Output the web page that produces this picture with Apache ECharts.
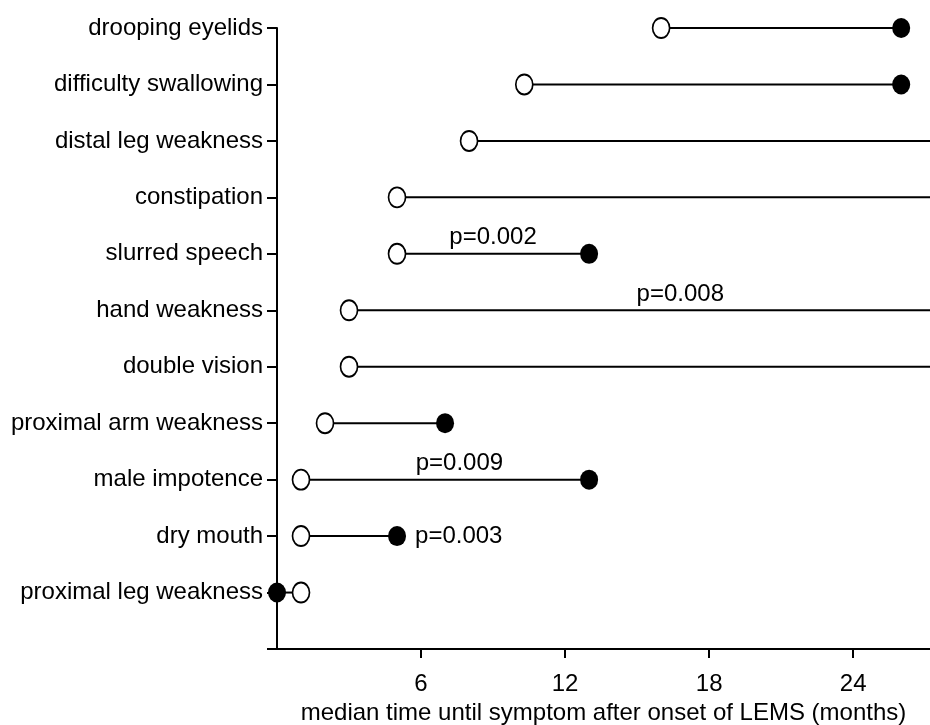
<!DOCTYPE html>
<html>
<head>
<meta charset="utf-8">
<script src="https://cdn.jsdelivr.net/npm/echarts@6/dist/echarts.min.js"></script>
<style>
html,body{margin:0;padding:0;background:#fff;}
#chart{width:930px;height:725px;}
</style>
</head>
<body>
<div id="chart"></div>
<script>
// Symptoms, top to bottom as drawn
const categories = ['drooping eyelids', 'difficulty swallowing', 'distal leg weakness', 'constipation', 'slurred speech', 'hand weakness', 'double vision', 'proximal arm weakness', 'male impotence', 'dry mouth', 'proximal leg weakness'];
// open circles (first group) median months
const openValues = [16, 10.3, 8, 5, 5, 3, 3, 2, 1, 1, 1];
// filled circles (second group) median months; null = not reached (line runs off the axis)
const filledValues = [26, 26, null, null, 13, null, null, 7, 13, 5, 0];
// p-value annotations
const pLabels = ['p=0.002', 'p=0.008', 'p=0.009', 'p=0.003'];
const pCategories = ['slurred speech', 'hand weakness', 'male impotence', 'dry mouth'];
const pAnchors = [9, 16.8, 7.6, 5];
// x axis
const xTicks = [6, 12, 18, 24];
const xMin = 0, xMax = 27.2;
const xTitle = 'median time until symptom after onset of LEMS (months)';

const FONT = 'Liberation Sans, Arial, Helvetica, sans-serif';
const yData = [''].concat(categories.slice().reverse());

const segData = categories.map((c, i) => {
  const a = openValues[i];
  const b = filledValues[i];
  const start = b == null ? a : Math.min(a, b);
  const end = b == null ? xMax : Math.max(a, b);
  return [start, end, c];
});
const openData = categories.map((c, i) => [openValues[i], c]);
const filledData = categories.map((c, i) => filledValues[i] == null ? null : [filledValues[i], c]).filter(d => d);
const pData = pLabels.map((t, i) => ({
  value: [pAnchors[i], pCategories[i]],
  label: i === 3
    ? { position: 'right', distance: 18, formatter: t }
    : { position: 'top', distance: 4, formatter: t }
}));

const chart = echarts.init(document.getElementById('chart'), null, {renderer: 'canvas'});
chart.setOption({
  animation: false,
  backgroundColor: '#fff',
  grid: { left: 277, right: 0, top: 28, bottom: 76, containLabel: false, outerBoundsMode: 'none' },
  xAxis: {
    type: 'value', min: xMin, max: xMax, interval: 6,
    name: xTitle, nameLocation: 'middle', nameGap: 50,
    nameTextStyle: { fontFamily: FONT, fontSize: 24, color: '#000' },
    axisLine: { show: true, lineStyle: { color: '#000', width: 2 } },
    axisTick: { show: true, length: 9, lineStyle: { color: '#000', width: 2 }, customValues: xTicks },
    axisLabel: { fontFamily: FONT, fontSize: 24, color: '#000', margin: 23, customValues: xTicks },
    splitLine: { show: false }
  },
  yAxis: {
    type: 'category', data: yData, boundaryGap: false,
    axisLine: { show: true, lineStyle: { color: '#000', width: 2 } },
    axisTick: { show: true, length: 10, interval: 0, lineStyle: { color: '#000', width: 2 } },
    axisLabel: { fontFamily: FONT, fontSize: 24, color: '#000', margin: 14, interval: 0 },
    splitLine: { show: false }
  },
  series: [
    {
      type: 'custom',
      data: segData,
      encode: { x: [0, 1], y: 2 },
      clip: false,
      z: 1,
      renderItem: function (params, api) {
        const p1 = api.coord([api.value(0), api.value(2)]);
        const p2 = api.coord([api.value(1), api.value(2)]);
        return {
          type: 'line',
          shape: { x1: p1[0], y1: p1[1], x2: p2[0], y2: p2[1] },
          style: { stroke: '#000', lineWidth: 2 }
        };
      }
    },
    {
      type: 'scatter', data: openData, symbol: 'circle', symbolSize: [17, 20], z: 3, clip: false,
      itemStyle: { color: '#fff', borderColor: '#000', borderWidth: 1.8, opacity: 1 },
      emphasis: { disabled: true }
    },
    {
      type: 'scatter', data: filledData, symbol: 'circle', symbolSize: [18, 20], z: 4, clip: false,
      itemStyle: { color: '#000', borderColor: '#000', borderWidth: 0, opacity: 1 },
      emphasis: { disabled: true }
    },
    {
      type: 'scatter', data: pData, symbolSize: 0, z: 5, silent: true, clip: false,
      itemStyle: { opacity: 1, color: '#000' },
      label: { show: true, fontFamily: FONT, fontSize: 24, color: '#000', opacity: 1 }
    }
  ]
});
</script>
</body>
</html>
